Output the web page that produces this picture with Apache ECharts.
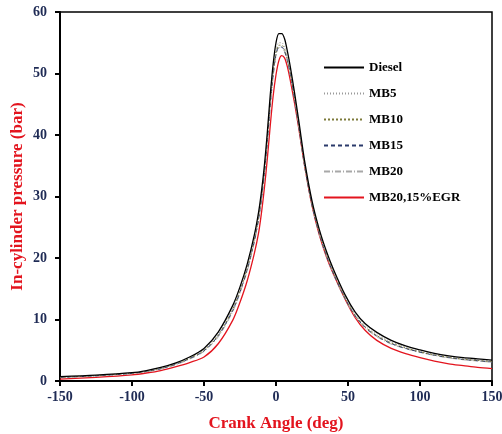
<!DOCTYPE html>
<html>
<head>
<meta charset="utf-8">
<script src="https://cdn.jsdelivr.net/npm/echarts@6/dist/echarts.min.js"></script>
<style>
  html, body { margin: 0; padding: 0; background: #fff; }
  #chart { width: 502px; height: 434px; }
</style>
</head>
<body>
<div id="chart"></div>
<script>
// crank angle (deg)
var angles = [-150,-125,-100,-90,-80,-70,-60,-50,-40,-30,-25,-20,-15,-12,-10,-8,-6,-4,-2,0,2,4,6,8,10,13,16,20,25,30,35,40,48,55,62,70,80,90,100,110,120,130,140,150];

// in-cylinder pressure (bar)
var diesel = [0.7,0.95,1.35,1.7,2.2,2.9,3.9,5.3,8.0,12.3,15.3,19.0,23.8,27.6,31,35.2,40.5,46.5,51.5,55,56.5,56.5,55.6,53.5,51,46.7,42,35.6,29.3,24.7,21.1,18.1,14,11.2,9.3,7.9,6.6,5.7,5.05,4.5,4.1,3.8,3.6,3.4];
var mb5 = [0.65,0.9,1.3,1.6,2.1,2.8,3.8,5.1,7.7,11.9,14.9,18.5,23.2,27.0,30.4,34.5,39.8,45.6,50.5,53.8,55.0,55.0,54.3,52.5,50.2,46.1,41.5,35.2,29.0,24.4,20.8,17.8,13.7,10.9,9.0,7.6,6.35,5.5,4.85,4.35,3.95,3.65,3.45,3.25];
var mb10 = [0.6,0.88,1.28,1.58,2.05,2.75,3.7,5.0,7.5,11.7,14.7,18.3,23.0,26.8,30.1,34.2,39.4,45.2,50.1,53.4,54.6,54.6,53.9,52.2,50.0,45.9,41.3,35.0,28.8,24.2,20.6,17.6,13.5,10.7,8.8,7.4,6.2,5.4,4.75,4.25,3.85,3.55,3.35,3.15];
var mb15 = [0.6,0.85,1.25,1.55,2.0,2.7,3.65,4.9,7.4,11.5,14.5,18.1,22.8,26.5,29.8,33.9,39.0,44.8,49.7,53.1,54.3,54.3,53.6,52.0,49.8,45.7,41.1,34.8,28.6,24.0,20.4,17.4,13.4,10.6,8.7,7.3,6.1,5.3,4.7,4.2,3.8,3.5,3.3,3.1];
var mb20 = [0.55,0.82,1.2,1.5,1.95,2.6,3.55,4.8,7.2,11.3,14.3,17.9,22.6,26.3,29.5,33.6,38.7,44.5,49.4,52.9,54.2,54.2,53.5,51.9,49.7,45.6,41.0,34.7,28.5,23.9,20.3,17.3,13.3,10.5,8.6,7.2,6.0,5.25,4.65,4.15,3.75,3.45,3.25,3.05];
var mb20egr = [0.3,0.6,1.0,1.3,1.7,2.3,3.0,3.9,6.1,9.9,12.8,16.3,20.8,24.2,27.5,31.5,36.2,41.5,46.3,49.8,52.1,52.9,52.5,51.0,48.8,45.0,40.8,34.8,28.5,23.8,20.2,17.3,13.3,10.3,8.2,6.6,5.3,4.45,3.8,3.25,2.8,2.5,2.2,2.0];

var names = ['Diesel', 'MB5', 'MB10', 'MB15', 'MB20', 'MB20,15%EGR'];
var values = [diesel, mb5, mb10, mb15, mb20, mb20egr];
var colors = ['#000000', '#9a9a9a', '#7d7a3a', '#2b3a6b', '#a8a8a8', '#e3141e'];
var dashes = ['solid', [1, 2], [2, 2], [4, 3], [6, 2, 1, 2], 'solid'];

function pairs(arr) {
  return angles.map(function (a, i) { return [a, arr[i]]; });
}

var serif = '"Liberation Serif", "DejaVu Serif", serif';
var tickColor = '#1f2b55';

var chart = echarts.init(document.getElementById('chart'));
chart.setOption({
  animation: false,
  color: colors,
  grid: {
    left: 60, right: 10, top: 12, bottom: 53,
    outerBoundsMode: 'none',
    show: true, borderColor: '#000', borderWidth: 1.5
  },
  legend: {
    orient: 'vertical',
    left: 318, top: 56,
    itemWidth: 40, itemHeight: 14, itemGap: 13,
    itemStyle: { opacity: 0 },
    data: names,
    textStyle: { fontFamily: serif, fontWeight: 'bold', fontSize: 13, color: '#000' }
  },
  xAxis: {
    type: 'value', min: -150, max: 150, interval: 50,
    name: 'Crank Angle (deg)', nameLocation: 'middle', nameGap: 34,
    nameTextStyle: { fontFamily: serif, fontWeight: 'bold', fontSize: 17, color: '#e3141e' },
    axisLine: { onZero: false, lineStyle: { color: '#000', width: 2 } },
    axisTick: { inside: false, length: 5, lineStyle: { color: '#000', width: 2 } },
    axisLabel: { fontFamily: serif, fontWeight: 'bold', fontSize: 14, color: tickColor, margin: 9 },
    splitLine: { show: false }
  },
  yAxis: {
    type: 'value', min: 0, max: 60, interval: 10,
    name: 'In-cylinder pressure (bar)', nameLocation: 'middle', nameGap: 34,
    nameMoveOverlap: false,
    nameTextStyle: { fontFamily: serif, fontWeight: 'bold', fontSize: 17, color: '#e3141e' },
    axisLine: { onZero: false, lineStyle: { color: '#000', width: 2 } },
    axisTick: { inside: false, length: 5, lineStyle: { color: '#000', width: 2 } },
    axisLabel: { fontFamily: serif, fontWeight: 'bold', fontSize: 14, color: tickColor, margin: 13 },
    splitLine: { show: false }
  },
  series: names.map(function (n, i) {
    return {
      name: n,
      type: 'line',
      data: pairs(values[i]),
      smooth: 0.3,
      symbol: 'none',
      z: 10 - i,
      lineStyle: { color: colors[i], width: (i === 0 || i === 5) ? 1.3 : 1, type: dashes[i] }
    };
  })
});
</script>
</body>
</html>
